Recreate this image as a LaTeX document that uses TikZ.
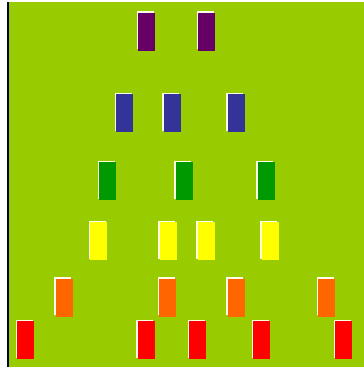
\documentclass[tikz,border=0pt]{standalone}
\definecolor{bg}{HTML}{99CC00}
\definecolor{edge}{HTML}{000033}
\definecolor{cpurple}{HTML}{660066}
\definecolor{cblue}{HTML}{333399}
\definecolor{cgreen}{HTML}{009900}
\definecolor{cyellow}{HTML}{FFFF00}
\definecolor{corange}{HTML}{FF6600}
\definecolor{cred}{HTML}{FF0000}
\tikzset{
  bar/.style={rectangle, inner sep=0pt, minimum width=17pt, minimum height=38pt, draw=none,
    preaction={fill=white!90!yellow, transform canvas={shift={(-1.2pt,1.2pt)}}}},
}
\begin{document}
\begin{tikzpicture}[x=1pt,y=-1pt]
\useasboundingbox (0,0) rectangle (364,367);
\fill[white] (0,0) rectangle (364,367);
\fill[bg] (9,2) rectangle (364,367);
\fill[edge] (7,2) rectangle (9,367);
% purple row
\node[bar, fill=cpurple] (p1) at (146.5,31.5) {};
\node[bar, fill=cpurple] (p2) at (206.5,31.5) {};
% blue row
\node[bar, fill=cblue] (b1) at (124.5,113) {};
\node[bar, fill=cblue] (b2) at (172,113) {};
\node[bar, fill=cblue] (b3) at (236,113) {};
% green row
\node[bar, fill=cgreen] (g1) at (107.5,181) {};
\node[bar, fill=cgreen] (g2) at (184,181) {};
\node[bar, fill=cgreen] (g3) at (266,181) {};
% yellow row
\node[bar, fill=cyellow] (y1) at (98.5,241) {};
\node[bar, fill=cyellow] (y2) at (168,241) {};
\node[bar, fill=cyellow] (y3) at (206,241) {};
\node[bar, fill=cyellow] (y4) at (270,241) {};
% orange row
\node[bar, fill=corange] (o1) at (64,297.5) {};
\node[bar, fill=corange] (o2) at (167.5,297.5) {};
\node[bar, fill=corange] (o3) at (236,297.5) {};
\node[bar, fill=corange] (o4) at (326.5,297.5) {};
% red row
\node[bar, fill=cred] (r1) at (25.5,340) {};
\node[bar, fill=cred] (r2) at (146,340) {};
\node[bar, fill=cred] (r3) at (197.5,340) {};
\node[bar, fill=cred] (r4) at (261.5,340) {};
\node[bar, fill=cred] (r5) at (343.5,340) {};
\end{tikzpicture}
\end{document}
